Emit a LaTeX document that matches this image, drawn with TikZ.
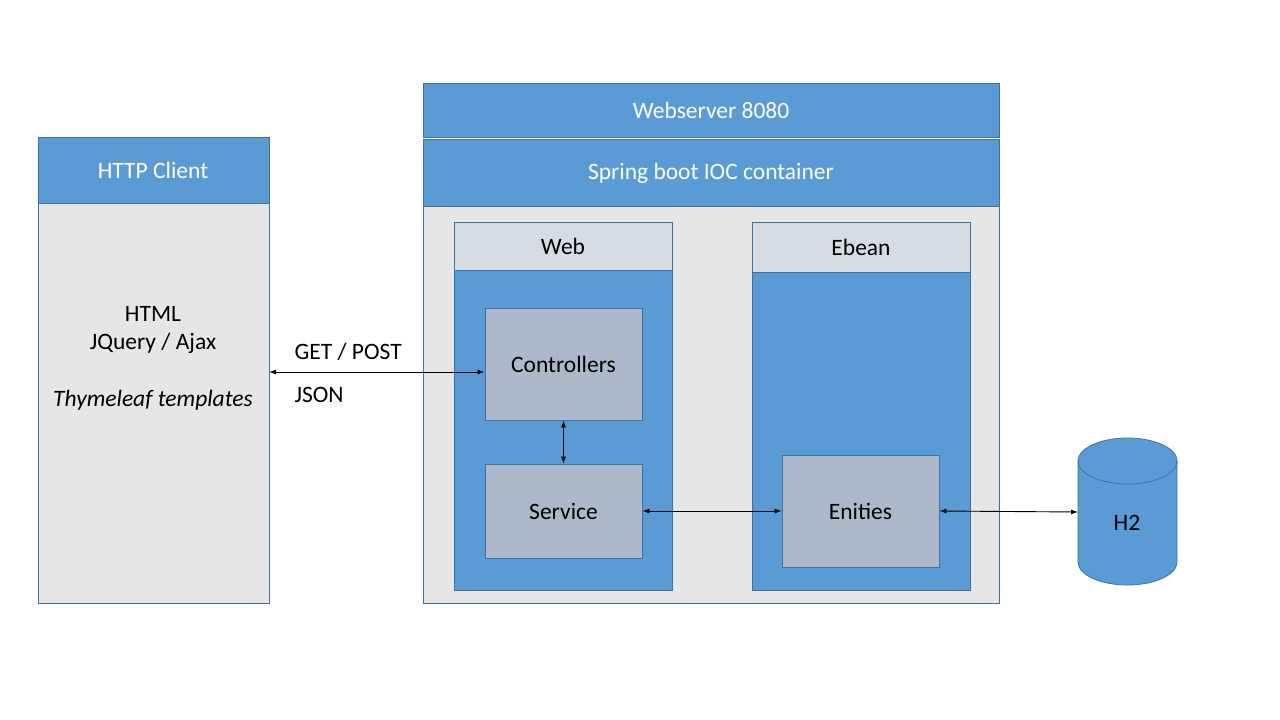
\documentclass[tikz,border=0pt]{standalone}
\usepackage{fontspec}
\setmainfont{Carlito}
\usetikzlibrary{arrows.meta}
\definecolor{sblue}{HTML}{5B9BD5}
\definecolor{sborder}{HTML}{41719C}
\definecolor{sgray}{HTML}{E7E6E6}
\definecolor{slight}{HTML}{D6DCE4}
\definecolor{sslate}{HTML}{ADB9CA}
\tikzset{
  every node/.style={font=\fontsize{23.5}{28}\selectfont},
  bluebox/.style={draw=sborder, fill=sblue, line width=0.8pt},
  graybox/.style={draw=sborder, fill=sgray, line width=0.8pt},
  lightbox/.style={draw=sborder, fill=slight, line width=0.8pt},
  slatebox/.style={draw=sborder, fill=sslate, line width=0.8pt},
  conn/.style={line width=0.9pt, {Latex[length=7pt,width=5pt]}-{Latex[length=7pt,width=5pt]}},
}
\begin{document}
\begin{tikzpicture}[x=1pt,y=-1pt]
\useasboundingbox (0,0) rectangle (1280,720);
\fill[white] (0,0) rectangle (1280,720);
% HTTP client
\draw[graybox] (38,137) rectangle (269,603);
\node[bluebox, minimum width=231pt, minimum height=66pt, anchor=north west, inner sep=0pt] (httph) at (38,137) {};
\node[text=white] (httpt) at (153,170) {HTTP Client};
\coordinate (httpr) at (269,372);
\node (html) at (153,314) {HTML};
\node (jq) at (153,343) {JQuery / Ajax};
\node (thy) at (153,400) {\itshape Thymeleaf templates};
% Webserver
\node[bluebox, minimum width=576pt, minimum height=54pt, anchor=north west, inner sep=0pt] (ws) at (423,83) {};
\node[text=white] (wst) at (711,110) {Webserver 8080};
\draw[graybox] (423,206) rectangle (999,603);
\node[bluebox, minimum width=576pt, minimum height=67pt, anchor=north west, inner sep=0pt] (sb) at (423,139) {};
\node[text=white] (sbt) at (711,173) {Spring boot IOC container};
% Web
\draw[bluebox] (454,222) rectangle (672,590);
\node[lightbox, minimum width=218pt, minimum height=48pt, anchor=north west, inner sep=0pt] (webh) at (454,222) {};
\node (webt) at (563,246) {Web};
% Ebean
\draw[bluebox] (752,222) rectangle (970,590);
\node[lightbox, minimum width=218pt, minimum height=50pt, anchor=north west, inner sep=0pt] (ebh) at (752,222) {};
\node (ebt) at (861,247) {Ebean};
% inner boxes
\node[slatebox, minimum width=157pt, minimum height=112pt] (ctrl) at (563.5,364) {Controllers};
\node[slatebox, minimum width=157pt, minimum height=94pt] (svc) at (563.5,511) {Service};
\node[slatebox, minimum width=157pt, minimum height=112pt] (ent) at (860.5,511) {Enities};
% H2 cylinder
\coordinate (h2w) at (1078,512);
\filldraw[draw=sborder, fill=sblue, line width=0.8pt]
  (1078,461) -- (1078,562) arc[start angle=180, end angle=0, x radius=49.5, y radius=23]
  -- (1177,461) arc[start angle=0, end angle=-180, x radius=49.5, y radius=23] -- cycle;
\draw[sborder, line width=0.8pt] (1078,461) arc[start angle=180, end angle=0, x radius=49.5, y radius=23];
\node (h2t) at (1127,523) {H2};
% labels
\node[anchor=west] (get) at (291,352) {GET / POST};
\node[anchor=west] (json) at (291,395) {JSON};
% connectors
\draw[conn] (httpr) -- (httpr -| ctrl.west);
\draw[conn] (ctrl.south) -- (svc.north);
\draw[conn] (svc.east) -- (ent.west);
\draw[conn] (ent.east) -- (h2w);
\end{tikzpicture}
\end{document}
